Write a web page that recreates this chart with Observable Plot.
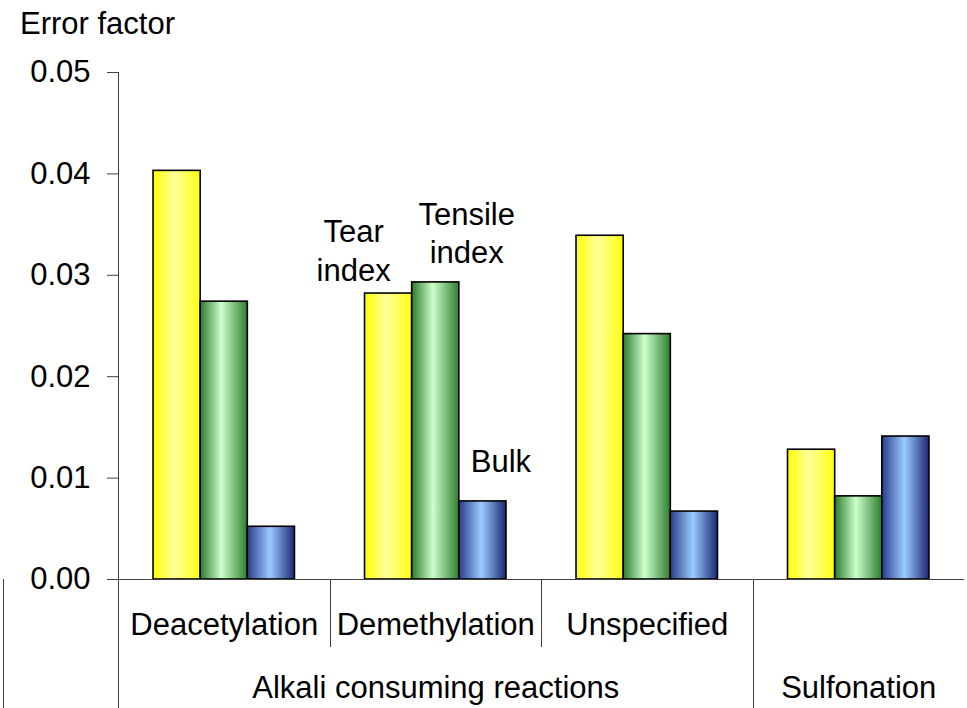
<!DOCTYPE html>
<html><head><meta charset="utf-8">
<script src="https://cdn.jsdelivr.net/npm/d3@7"></script>
<script src="https://cdn.jsdelivr.net/npm/@observablehq/plot@0.6"></script>
<style>
body{margin:0;background:#fff;font-family:"Liberation Sans",Arial,sans-serif;}
#title{height:48px;line-height:48px;font-size:31px;padding-left:20px;color:#000;white-space:nowrap;}
#chart svg{display:block;overflow:visible;}
</style></head><body>
<div id="title">Error factor</div>
<div id="chart"></div>
<script>
// ---- data ----
const groups = ["Deacetylation", "Demethylation", "Unspecified", "Sulfonation"];
const subLabels = ["Deacetylation", "Demethylation", "Unspecified", ""];
const superGroups = ["Alkali consuming reactions", "Alkali consuming reactions", "Alkali consuming reactions", "Sulfonation"];
const series = ["Tear index", "Tensile index", "Bulk"];
const tearIndex = [0.0403, 0.0282, 0.0339, 0.0128];
const tensileIndex = [0.0274, 0.0293, 0.0242, 0.0082];
const bulk = [0.0052, 0.0077, 0.0067, 0.0141];
const yTicks = [0, 0.01, 0.02, 0.03, 0.04, 0.05];
const annotatedGroup = "Demethylation";

// ---- styles ----
const gradientStops = {
  "Tear index": [["0%", "#FFFF00"], ["45%", "#FFFF9C"], ["100%", "#FFFF10"]],
  "Tensile index": [["0%", "#2C7A2C"], ["45%", "#CCFFCC"], ["100%", "#2E7D2E"]],
  "Bulk": [["0%", "#2B3B8C"], ["48%", "#99CCFF"], ["100%", "#1C2672"]]
};
const gradId = s => "grad-" + series.indexOf(s);
const labelOffset = {"Tear index": [-35, -13], "Tensile index": [31, -19], "Bulk": [18, -29]};
const lineColor = "#404040";

const valuesBySeries = [tearIndex, tensileIndex, bulk];
const rows = groups.flatMap((g, i) => series.map((s, j) => ({group: g, series: s, value: valuesBySeries[j][i]})));
const annotations = rows.filter(d => d.group === annotatedGroup);
const subRows = groups.map((g, i) => ({group: g, label: subLabels[i]})).filter(d => d.label);

// super-group labels sit in the middle facet of each run of groups
const superLabels = [];
{
  let start = 0;
  for (let i = 1; i <= groups.length; i++) {
    if (i === groups.length || superGroups[i] !== superGroups[start]) {
      const members = groups.slice(start, i);
      superLabels.push({group: members[Math.floor(members.length / 2)], label: superGroups[start]});
      start = i;
    }
  }
}

const W = 967, H = 660;
const chart = Plot.plot({
  width: W, height: H,
  marginLeft: 118, marginRight: 3, marginTop: 24, marginBottom: 129,
  style: {fontFamily: "'Liberation Sans', Arial, sans-serif", fontSize: "31px", color: "#000", overflow: "visible"},
  fx: {domain: groups, padding: 0, round: false, axis: null, label: null},
  x: {domain: series, paddingInner: 0, paddingOuter: 0.743, round: false, axis: null, label: null},
  y: {domain: [0, 0.05], label: null},
  color: {domain: series, range: series.map(s => `url(#${gradId(s)})`)},
  marks: [
    Plot.barY(rows, {fx: "group", x: "series", y: "value", fill: "series", stroke: "#000", strokeWidth: 1.6, inset: 0}),
    Plot.ruleY([0], {stroke: lineColor, strokeWidth: 1}),
    Plot.axisY(yTicks, {tickFormat: d3.format(".2f"), tickSize: 11, tickPadding: 17, fontSize: 31, stroke: lineColor, strokeOpacity: 1, label: null}),
    Plot.text(subRows, {fx: "group", text: "label", frameAnchor: "bottom", lineAnchor: "middle", dy: 46, fontSize: 31}),
    Plot.text(superLabels, {fx: "group", text: "label", frameAnchor: "bottom", lineAnchor: "middle", dy: 109, fontSize: 31}),
    ...series.map(s => Plot.text(annotations.filter(d => d.series === s), {
      fx: "group", x: "series", y: "value",
      text: d => d.series.replace(" ", "\n"),
      lineAnchor: "bottom", lineHeight: 1.25, fontSize: 31,
      dx: labelOffset[s][0], dy: labelOffset[s][1]
    }))
  ]
});

const svg = d3.select(chart);
// gradient fills
const defs = svg.insert("defs", ":first-child");
series.forEach(s => {
  const lg = defs.append("linearGradient").attr("id", gradId(s)).attr("x1", 0).attr("x2", 1).attr("y1", 0).attr("y2", 0);
  gradientStops[s].forEach(([o, c]) => lg.append("stop").attr("offset", o).attr("stop-color", c));
});

// axis line and category separators, placed with the plot's own scales
const fxS = chart.scale("fx");
const yS = chart.scale("y");
const y0 = yS.apply(0), yTop = yS.apply(yTicks[yTicks.length - 1]);
const subRowBottom = y0 + 68;
const g = svg.append("g").attr("stroke", lineColor).attr("stroke-width", 1).attr("fill", "none");
const vline = (x, ya, yb) => g.append("line").attr("x1", Math.round(x) + 0.5).attr("x2", Math.round(x) + 0.5).attr("y1", ya).attr("y2", yb);
vline(fxS.apply(groups[0]), yTop, H);
for (let i = 1; i < groups.length; i++) {
  vline(fxS.apply(groups[i]), y0, superGroups[i] !== superGroups[i - 1] ? H : subRowBottom);
}
vline(2.5, y0, H);

document.getElementById("chart").append(chart);
</script>
</body></html>
